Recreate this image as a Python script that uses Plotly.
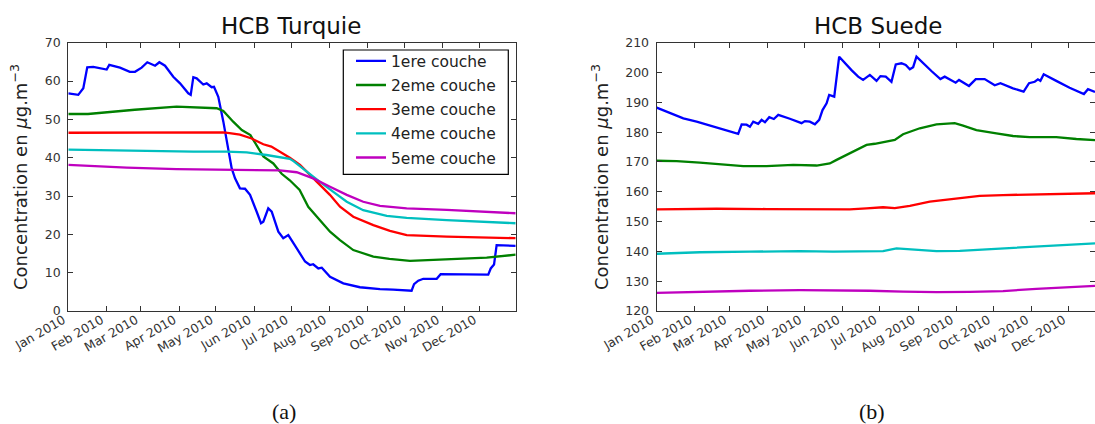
import pandas as pd
import plotly.graph_objects as go

# ---------------- data (day offset from 2010-01-01, value) ----------------
START = "2010-01-01"

# HCB Turquie
tr1_day = [0, 8.1, 12.2, 15.4, 20.3, 31.2, 33.3, 42, 50, 54.2, 59.6, 64.2, 70.5, 74, 78.6, 85.3, 90.8,
           97.5, 99.5, 101.6, 104.3, 109.7, 112.5, 116.5, 118.4, 121.9, 126, 130, 132.8, 135.5, 139.5,
           143.6, 147.7, 153.1, 156.6, 158.5, 162.5, 165.3, 170.7, 174.7, 178.8, 184, 192.4, 196.4, 199,
           203.2, 206, 212.7, 223.5, 237, 253.3, 264, 276.3, 279, 281, 284.4, 288.5, 299.4, 302.6, 341.3,
           343.3, 346, 348.1, 363.6]
tr1_val = [56.8, 56.4, 58.1, 63.6, 63.7, 63.0, 64.2, 63.5, 62.4, 62.4, 63.5, 64.9, 64.0, 64.9, 64.0, 61.1, 59.4,
           56.8, 56.4, 61.0, 60.7, 59.1, 59.4, 58.4, 58.5, 55.9, 49.4, 42.4, 37.2, 34.6, 32.0,
           31.9, 30.3, 25.9, 22.9, 23.3, 26.8, 25.9, 20.7, 19.0, 19.8, 17.2, 12.9, 12.0, 12.2,
           11.1, 11.3, 8.9, 7.2, 6.2, 5.7, 5.6, 5.4, 5.3, 7.0, 7.9, 8.4, 8.4, 9.6, 9.5,
           11.1, 12.1, 17.2, 17.0]

tr2_day = [0, 16, 54, 88, 120.6, 126, 134, 141, 148, 154.4, 158.5, 166.6, 173.4, 180, 188, 195, 204.5,
           212.7, 220.8, 231.6, 247.9, 261, 277.7, 307.5, 340, 363.6]
tr2_val = [51.4, 51.4, 52.5, 53.3, 52.9, 52.2, 49.4, 47.2, 45.9, 42.4, 40.3, 38.5, 35.8, 34.1, 31.6, 27.2, 23.7,
           20.7, 18.5, 15.9, 14.2, 13.6, 13.1, 13.5, 13.9, 14.7]

tr3_day = [0, 74.5, 126, 131, 139.5, 149, 158.5, 165, 172, 180, 188.3, 196.4, 204.5, 212.6, 220.8, 231.6,
           247.9, 261.4, 275, 307.5, 363.6]
tr3_val = [46.5, 46.6, 46.6, 46.4, 46.0, 45.0, 43.5, 42.9, 41.5, 40.0, 38.1, 35.5, 32.9, 30.3, 27.2, 24.6,
           22.4, 20.9, 19.8, 19.4, 19.0]

tr4_day = [0, 47.5, 101.6, 128.7, 145, 161, 172, 180, 183, 193.7, 204.5, 215.4, 226.3, 239.7, 258.8, 275,
           307.5, 363.6]
tr4_val = [42.1, 41.8, 41.6, 41.6, 41.4, 40.7, 40.1, 39.7, 39.1, 36.3, 33.7, 31.1, 28.5, 26.3, 24.8, 24.3,
           23.7, 22.9]

tr5_day = [0, 47.5, 88, 128.7, 155.8, 172, 185.6, 199, 212.7, 226.3, 239.7, 253.3, 275, 307.5, 363.6]
tr5_val = [38.1, 37.4, 37.0, 36.9, 36.9, 36.7, 36.2, 34.6, 32.4, 30.3, 28.5, 27.4, 26.8, 26.4, 25.5]

# HCB Suede
se1_day = [0, 10.8, 21.6, 32.4, 48.6, 66.1, 68.9, 72.9, 75.6, 78.3, 82.3, 85.1, 87.8, 91.3, 95, 98.6, 108,
           117.5, 120.2, 124.2, 128.3, 131.8, 134.5, 137.8, 139.9, 144, 148, 152.6, 158, 163.4, 167.4,
           172.9, 178.3, 181.5, 185.8, 190.4, 193.9, 198.5, 202, 205.3, 208, 210.7, 216.1, 222.8, 230.1,
           233.6, 242.5, 245.2, 253.3, 258.8, 266, 274.2, 278.8, 289, 297.6, 302, 306.6, 309.2, 311.2,
           313.9, 324.1, 334.9, 346.5, 349.8, 355.5]
se1_val = [188.2, 186.3, 184.6, 183.5, 181.5, 179.4, 182.6, 182.5, 181.8, 183.5, 182.8, 184.1, 183.3, 185.0,
           184.4, 185.8, 184.5, 183.0, 183.7, 183.5, 182.6, 184.1, 187.4, 189.7, 192.5, 191.9, 205.3, 203.1,
           200.8, 198.6, 197.5, 199.2, 197.2, 198.8, 198.6, 196.9, 202.7, 203.1, 202.5, 201.1, 201.8,
           205.3, 203.1, 200.5, 197.8, 198.6, 196.6, 197.5, 195.5, 197.8, 197.8, 195.7, 196.4, 194.7,
           193.6, 196.4, 196.9, 197.7, 197.2, 199.4, 197.2, 194.9, 192.8, 194.4, 193.5]

se2_day = [0, 16.2, 35, 54, 70.2, 89.1, 110.7, 129.7, 140.4, 145.9, 151.2, 159.3, 170.2, 176.9, 183.6, 193.1,
           199.8, 213.4, 226.9, 241.7, 248.5, 259.3, 275.5, 289, 302.5, 324.1, 340.4, 355.5]
se2_val = [170.4, 170.3, 169.8, 169.2, 168.6, 168.6, 169.0, 168.8, 169.5, 170.7, 171.8, 173.4, 175.7, 176.1,
           176.6, 177.4, 179.3, 181.3, 182.6, 183.0, 182.2, 180.7, 179.6, 178.7, 178.3, 178.3, 177.7, 177.3]

se3_day = [0, 48.6, 89, 116, 140.4, 156.6, 170.2, 183.6, 193.1, 205.3, 221.5, 243.1, 262, 280.9, 307.9, 335,
           355.5]
se3_val = [154.1, 154.3, 154.2, 154.1, 154.0, 154.1, 154.4, 154.8, 154.5, 155.3, 156.7, 157.8, 158.6, 158.9,
           159.2, 159.5, 159.5]

se4_day = [0, 35, 75.6, 116, 143, 172.9, 183.6, 194.5, 205.3, 226.9, 245.8, 267.4, 294.4, 321.4, 355.5]
se4_val = [139.2, 139.7, 139.9, 140.1, 139.9, 139.9, 140.1, 141.0, 140.7, 140.1, 140.2, 140.7, 141.4, 142.1,
           142.7]

se5_day = [0, 35, 75.6, 116, 143, 172.9, 199.8, 226.9, 253.9, 280.9, 307.9, 335, 355.5]
se5_val = [126.1, 126.5, 126.8, 127.0, 127.0, 126.8, 126.5, 126.3, 126.4, 126.7, 127.4, 127.9, 128.4]

series_names = ["1ere couche", "2eme couche", "3eme couche", "4eme couche", "5eme couche"]
series_colors = ["#0000ff", "#008000", "#ff0000", "#00bfbf", "#bf00bf"]

turq_days = [tr1_day, tr2_day, tr3_day, tr4_day, tr5_day]
turq_vals = [tr1_val, tr2_val, tr3_val, tr4_val, tr5_val]
suede_days = [se1_day, se2_day, se3_day, se4_day, se5_day]
suede_vals = [se1_val, se2_val, se3_val, se4_val, se5_val]

turq_range_days = 363.6
suede_range_days = 355.5

t0 = pd.Timestamp(START)


def to_dates(days):
    return [t0 + pd.Timedelta(days=float(d)) for d in days]


# ---------------- figure ----------------
W, H = 1095, 424
FONT = "DejaVu Sans"
AX = "#333333"

fig = go.Figure()
for i in range(5):
    fig.add_trace(go.Scatter(x=to_dates(turq_days[i]), y=turq_vals[i], mode="lines",
                             name=series_names[i], legendgroup=series_names[i],
                             line=dict(color=series_colors[i], width=2.3),
                             xaxis="x", yaxis="y", showlegend=True))
for i in range(5):
    fig.add_trace(go.Scatter(x=to_dates(suede_days[i]), y=suede_vals[i], mode="lines",
                             name=series_names[i], legendgroup=series_names[i],
                             line=dict(color=series_colors[i], width=2.3),
                             xaxis="x2", yaxis="y2", showlegend=False))


def px_x(p):
    return p / W


def px_y(p):
    return 1 - p / H


ydom = [px_y(311), px_y(42.7)]

common_x = dict(type="date", tick0=START, dtick="M1", tickformat="%b %Y", tickangle=-30,
                ticks="inside", ticklen=5, tickwidth=1, tickcolor=AX, showline=True,
                linecolor=AX, linewidth=1.3, mirror="allticks", showgrid=False, zeroline=False,
                automargin=False,
                tickfont=dict(family=FONT, size=12.5, color="#333333"),
                ticklabelstandoff=-4, ticklabelshift=-5)
common_y = dict(ticks="inside", ticklen=5, tickwidth=1, tickcolor=AX, showline=True,
                linecolor=AX, linewidth=1.3, mirror="allticks", showgrid=False, zeroline=False,
                automargin=False,
                tickfont=dict(family=FONT, size=12.5, color="#333333"), ticklabelstandoff=4)

fig.update_layout(
    template="none",
    width=W, height=H, margin=dict(l=0, r=0, t=0, b=0, autoexpand=False),
    paper_bgcolor="white", plot_bgcolor="white",
    xaxis=dict(domain=[px_x(68.3), px_x(515.7)], anchor="y",
               range=[t0, t0 + pd.Timedelta(days=turq_range_days)], **common_x),
    yaxis=dict(domain=ydom, anchor="x", range=[0, 70], dtick=10, **common_y),
    xaxis2=dict(domain=[px_x(656.7), 1.0], anchor="y2",
                range=[t0, t0 + pd.Timedelta(days=suede_range_days)], **common_x),
    yaxis2=dict(domain=ydom, anchor="x2", range=[120, 210], dtick=10, **common_y),
    legend=dict(x=px_x(351), y=px_y(44.3), xanchor="left", yanchor="top",
                borderwidth=0, bgcolor="rgba(0,0,0,0)",
                font=dict(family=FONT, size=15.5, color="#222222"),
                tracegroupgap=1, itemwidth=30),
    showlegend=True,
)

# legend frame
fig.add_shape(type="rect", xref="paper", yref="paper",
              x0=px_x(343.3), x1=px_x(508.3), y0=px_y(174.3), y1=px_y(50),
              line=dict(color="black", width=1.2), fillcolor="white", layer="above")

ytitle = "Concentration en <i>μ</i>g.m<sup>−3</sup>"
annots = [
    dict(text="HCB Turquie", x=px_x(291), y=px_y(26.4), font=dict(family=FONT, size=23, color="#111")),
    dict(text="HCB Suede", x=px_x(878), y=px_y(26.4), font=dict(family=FONT, size=23, color="#111")),
    dict(text=ytitle, x=px_x(19), y=px_y(177), textangle=-90, font=dict(family=FONT, size=18, color="#222")),
    dict(text=ytitle, x=px_x(600), y=px_y(177), textangle=-90, font=dict(family=FONT, size=18, color="#222")),
    dict(text="(a)", x=px_x(283.5), y=px_y(411), font=dict(family="Liberation Serif", size=22, color="#111")),
    dict(text="(b)", x=px_x(872), y=px_y(411), font=dict(family="Liberation Serif", size=22, color="#111")),
]
for a in annots:
    fig.add_annotation(xref="paper", yref="paper", showarrow=False, xanchor="center", yanchor="middle", **a)

fig.write_html("out.html", config={"displayModeBar": False},
               post_script="document.body.style.margin='0px';document.body.style.overflow='hidden';")
